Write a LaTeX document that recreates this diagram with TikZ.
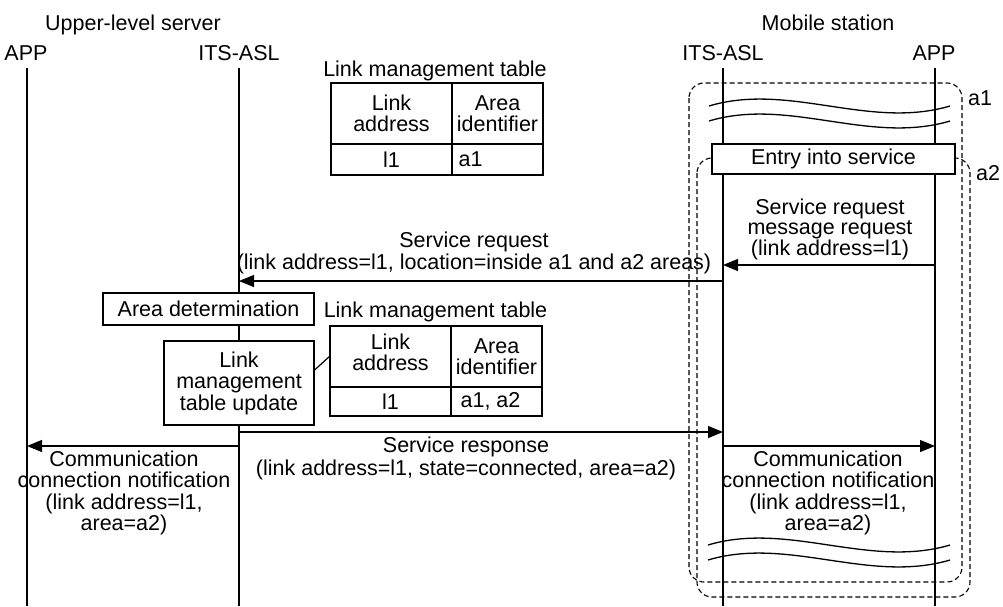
\documentclass[tikz,border=0pt]{standalone}
\usepackage{fontspec}
\setmainfont{Liberation Sans}
\usetikzlibrary{arrows.meta}
\begin{document}
\begin{tikzpicture}[x=1pt,y=-1pt,
  font=\fontsize{21.5}{21.5}\selectfont,
  txt/.style={inner sep=0pt, align=center},
  boxnode/.style={draw, fill=white, line width=1.2pt, inner sep=0pt, align=center},
  cellnode/.style={draw, line width=1.2pt, inner sep=0pt, align=center, font=\fontsize{21.5}{21}\selectfont},
  lifeline/.style={line width=1.3pt},
  lifethick/.style={line width=2.2pt},
  lifemid/.style={line width=1.7pt},
  msg/.style={line width=1.2pt, -{Triangle[length=15pt,width=12pt]}},
  arearect/.style={line width=1.1pt, dash pattern=on 5pt off 3pt, rounded corners=15pt},
  wave/.style={line width=1.3pt}]
\useasboundingbox (0,0) rectangle (1003,606);

% headers
\node[txt, anchor=base] (server) at (133,30) {Upper-level server};
\node[txt, anchor=base] (mobile) at (828,30) {Mobile station};
\node[txt, anchor=base] (hSA) at (26,60) {APP};
\node[txt, anchor=base] (hSI) at (239,60) {ITS-ASL};
\node[txt, anchor=base] (hMI) at (723,60) {ITS-ASL};
\node[txt, anchor=base] (hMA) at (934,60) {APP};

% area regions
\draw[arearect] (689,83) rectangle (962,582);
\draw[arearect] (697,158) rectangle (970,597);
\node[txt, anchor=base] (la1) at (980,105) {a1};
\node[txt, anchor=base] (la2) at (988,180) {a2};

% lifelines
\coordinate (sAt) at (27,68);  \coordinate (sAb) at (27,606);
\coordinate (sIt) at (239,68); \coordinate (sIb) at (239,606);
\coordinate (mIt) at (723,68); \coordinate (mIb) at (723,606);
\coordinate (mAt) at (935,68); \coordinate (mAb) at (935,606);
\draw[lifeline] (sAt) -- (sAb);
\draw[lifeline] (sIt) -- (sIb);
\draw[lifemid] (mIt) -- (mIb);
\draw[lifethick] (mAt) -- (mAb);

% waves
\draw[wave] (709,106) .. controls (789,82) and (869,130) .. (950,106);
\draw[wave] (709,121) .. controls (789,97) and (869,145) .. (950,121);
\draw[wave] (708,545) .. controls (788,521) and (869,569) .. (950,545);
\draw[wave] (708,560) .. controls (788,536) and (869,584) .. (950,560);

% entry box
\node[boxnode, minimum width=243pt, minimum height=30pt] (entry) at (833.5,159) {Entry into service};

% top table
\node[txt, anchor=base] (t1title) at (435,76) {Link management table};
\node[cellnode, minimum width=121pt, minimum height=61pt] (t1a) at (391.5,113.5) {Link\\address};
\node[cellnode, minimum width=91pt, minimum height=61pt] (t1b) at (497.5,113.5) {Area\\identifier};
\node[cellnode, minimum width=121pt, minimum height=31pt] (t1c) at (391.5,159.5) {l1};
\node[cellnode, minimum width=91pt, minimum height=31pt] (t1d) at (497.5,159.5) {};
\node[txt, anchor=west] (t1dv) at ([xshift=7pt]t1d.west) {a1};

% server boxes
\node[boxnode, minimum width=211pt, minimum height=32pt] (areadet) at (208.5,309) {Area determination};
\node[boxnode, minimum width=150pt, minimum height=84pt] (upd) at (239,383) {Link\\management\\table update};

% second table
\node[txt, anchor=base] (t2title) at (435.5,317) {Link management table};
\node[cellnode, minimum width=121pt, minimum height=61pt] (t2a) at (390.5,356.5) {};
\node[txt, font=\fontsize{21.5}{21}\selectfont] (t2at) at (390.5,352) {Link\\address};
\node[cellnode, minimum width=91pt, minimum height=61pt] (t2b) at (496.5,356.5) {Area\\identifier};
\node[cellnode, minimum width=121pt, minimum height=29pt] (t2c) at (390.5,401.5) {l1};
\node[cellnode, minimum width=91pt, minimum height=29pt] (t2d) at (496.5,401.5) {};
\node[txt, anchor=west] (t2dv) at ([xshift=10pt]t2d.west) {a1, a2};
\draw[line width=1.2pt] ([yshift=13pt]upd.east) -- (t2a.west);

% messages
\coordinate (m1a) at (935,265); \coordinate (m1b) at (723,265);
\draw[msg] (m1a) -- (m1b);
\node[txt, font=\fontsize{21.5}{20.5}\selectfont] (m1t) at (830,229) {Service request\\message request\\(link address=l1)};

\coordinate (m2a) at (723,281); \coordinate (m2b) at (239,281);
\draw[msg] (m2a) -- (m2b);
\node[txt] (m2t) at (474,253) {Service request\\(link address=l1, location=inside a1 and a2 areas)};

\coordinate (m3a) at (239,432); \coordinate (m3b) at (723,432);
\draw[msg] (m3a) -- (m3b);
\node[txt, font=\fontsize{21.5}{23}\selectfont] (m3t) at (466,458) {Service response\\(link address=l1, state=connected, area=a2)};

\coordinate (m4a) at (239,446); \coordinate (m4b) at (27,446);
\draw[msg] (m4a) -- (m4b);
\node[txt] (m4t) at (124,493) {Communication\\connection notification\\(link address=l1,\\area=a2)};

\coordinate (m5a) at (723,446); \coordinate (m5b) at (935,446);
\draw[msg] (m5a) -- (m5b);
\node[txt] (m5t) at (828,493) {Communication\\connection notification\\(link address=l1,\\area=a2)};
\end{tikzpicture}
\end{document}
